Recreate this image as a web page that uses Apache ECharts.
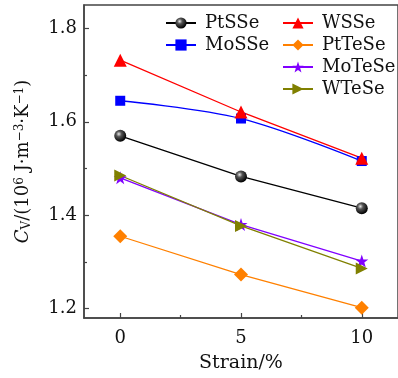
<!DOCTYPE html>
<html>
<head>
<meta charset="utf-8">
<script src="https://cdn.jsdelivr.net/npm/echarts@6/dist/echarts.min.js"></script>
<style>
  html, body { margin: 0; padding: 0; background: #fff; }
  #chart { width: 398px; height: 378px; }
</style>
</head>
<body>
<div id="chart"></div>
<script>
// Strain (%) and volumetric heat capacity of the Janus monolayers
const strain = [0, 5, 10];
const PtSSe  = [1.570, 1.483, 1.415];
const MoSSe  = [1.645, 1.607, 1.516];
const WSSe   = [1.732, 1.621, 1.522];
const PtTeSe = [1.355, 1.273, 1.202];
const MoTeSe = [1.480, 1.380, 1.302];
const WTeSe  = [1.485, 1.377, 1.286];

const xMajor = [0, 5, 10];
const xMinor = [2.5, 7.5];
const yMajor = [1.2, 1.4, 1.6, 1.8];
const yMinor = [1.3, 1.5, 1.7];

const FONT = 'DejaVu Serif';
const STAR = 'path://M50,0L61.8,34.5L97.6,34.5L68.8,55.9L79.4,90.5L50,69.1L20.6,90.5L31.2,55.9L2.4,34.5L38.2,34.5Z';
const RIGHT_TRI = 'path://M0,0L100,50L0,100Z';

const pairs = ys => strain.map((x, i) => [x, ys[i]]);

const sphere = {
  type: 'radial', x: 0.38, y: 0.35, r: 0.65,
  colorStops: [
    { offset: 0, color: '#e8e8e8' },
    { offset: 0.35, color: '#555' },
    { offset: 1, color: '#000' }
  ]
};

function line(name, data, color, symbol, size, extra) {
  return Object.assign({
    name, type: 'line', data: pairs(data),
    symbol, symbolSize: size,
    lineStyle: { color, width: 1.3 },
    itemStyle: { color },
    emphasis: { disabled: true },
    animation: false
  }, extra || {});
}

const series = [
  line('PtSSe', PtSSe, '#000', 'circle', 12, { itemStyle: { color: sphere } }),
  line('MoSSe', MoSSe, '#0000ff', 'rect', 10, { smooth: 0.35 }),
  line('WSSe', WSSe, '#ff0000', 'triangle', 13),
  line('PtTeSe', PtTeSe, '#ff8000', 'diamond', 14),
  line('MoTeSe', MoTeSe, '#8000ff', STAR, 13),
  line('WTeSe', WTeSe, '#808000', RIGHT_TRI, 12)
];

const legendBase = {
  orient: 'vertical', padding: 0, itemGap: 2, itemWidth: 30, itemHeight: 14,
  textStyle: { fontFamily: FONT, fontSize: 18, color: '#111', padding: [0, 0, 0, 4], lineHeight: 20 },
  selectedMode: false
};

const xCommon = { type: 'value', min: -1.5, max: 11.5 };
const yCommon = { type: 'value', min: 1.18, max: 1.85 };

const option = {
  backgroundColor: '#fff',
  animation: false,
  grid: {
    left: 84, top: 5, width: 317, height: 317,
    show: true, borderColor: '#444', borderWidth: 1.5, backgroundColor: 'transparent'
  },
  legend: [
    Object.assign({}, legendBase, { data: ['PtSSe', 'MoSSe'], left: 165, top: 13 }),
    Object.assign({}, legendBase, { data: ['WSSe', 'PtTeSe', 'MoTeSe', 'WTeSe'], left: 282, top: 13 })
  ],
  xAxis: [
    Object.assign({}, xCommon, {
      name: 'Strain/%', nameLocation: 'middle', nameGap: 36,
      nameTextStyle: { fontFamily: FONT, fontSize: 19, color: '#111' },
      axisLine: { show: true, onZero: false, lineStyle: { color: '#444', width: 1.5 } },
      axisTick: { show: true, inside: true, length: 5, customValues: xMajor, lineStyle: { color: '#444', width: 1.2 } },
      axisLabel: { customValues: xMajor, margin: 11, fontFamily: FONT, fontSize: 18, color: '#111' },
      splitLine: { show: false }
    }),
    Object.assign({}, xCommon, {
      position: 'bottom',
      axisLine: { show: false, onZero: false },
      axisTick: { show: true, inside: true, length: 3, customValues: xMinor, lineStyle: { color: '#444', width: 1.2 } },
      axisLabel: { show: false },
      splitLine: { show: false }
    })
  ],
  yAxis: [
    Object.assign({}, yCommon, {
      name: '{i|C}{sub|V}{t|/(10}{sup|6}{t| J·m}{sup|−3}{t|·K}{sup|−1}{t|)}',
      nameLocation: 'middle', nameGap: 51,
      nameTextStyle: {
        color: '#111',
        rich: {
          i: { fontFamily: FONT, fontStyle: 'italic', fontSize: 18, color: '#111' },
          t: { fontFamily: FONT, fontSize: 18, color: '#111' },
          sub: { fontFamily: FONT, fontSize: 12, color: '#111', verticalAlign: 'bottom', padding: [6, 0, 0, 0] },
          sup: { fontFamily: FONT, fontSize: 12, color: '#111', verticalAlign: 'top', padding: [0, 0, 7, 0] }
        }
      },
      axisLine: { show: true, onZero: false, lineStyle: { color: '#444', width: 1.5 } },
      axisTick: { show: true, inside: true, length: 5, customValues: yMajor, lineStyle: { color: '#444', width: 1.2 } },
      axisLabel: { customValues: yMajor, margin: 7, fontFamily: FONT, fontSize: 18, color: '#111',
                   formatter: v => v.toFixed(1) },
      splitLine: { show: false }
    }),
    Object.assign({}, yCommon, {
      position: 'left',
      axisLine: { show: false, onZero: false },
      axisTick: { show: true, inside: true, length: 3, customValues: yMinor, lineStyle: { color: '#444', width: 1.2 } },
      axisLabel: { show: false },
      splitLine: { show: false }
    })
  ],
  series
};

const chart = echarts.init(document.getElementById('chart'), null, { renderer: 'canvas' });
chart.setOption(option);
</script>
</body>
</html>
